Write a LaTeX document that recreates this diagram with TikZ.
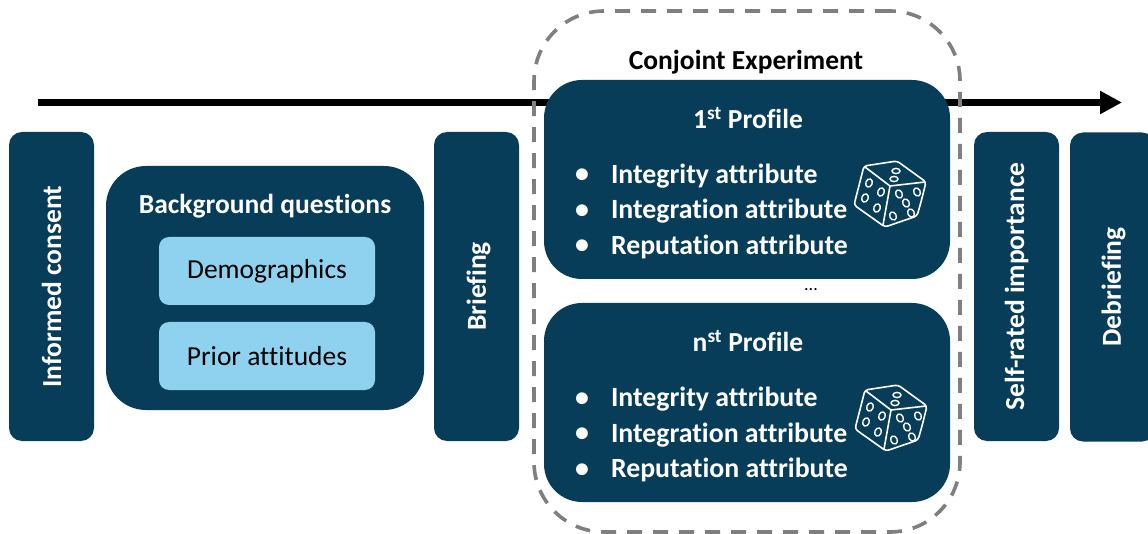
\documentclass[tikz,border=0pt]{standalone}
\usepackage{fontspec}
\setmainfont[Ligatures=NoCommon]{Carlito}
\usepackage{xcolor}
\usetikzlibrary{arrows.meta,positioning}
\definecolor{navy}{HTML}{083D5A}
\definecolor{sky}{HTML}{8FD2EF}
\definecolor{frame}{HTML}{7F7F7F}
\newcommand{\attr}[1]{\makebox[34pt][l]{\hspace{-2pt}\raisebox{0.5pt}{\textbullet}}#1}

\begin{document}
\begin{tikzpicture}[
  x=1pt,y=-1pt,
  font=\fontsize{27.5pt}{33pt}\selectfont\bfseries,
  outer sep=0pt,
  stage/.style={fill=navy,text=white,rounded corners=13pt,minimum width=85pt,minimum height=309pt},
  vtext/.style={text=white,rotate=90},
  group/.style={fill=navy,text=white,rounded corners=40pt,minimum width=318pt,minimum height=244pt},
  profile/.style={fill=navy,text=white,rounded corners=38pt,minimum width=406pt,minimum height=199pt},
  item/.style={fill=sky,text=black,rounded corners=10pt,minimum width=216pt,minimum height=68pt,font=\fontsize{27.5pt}{33pt}\selectfont},
  attrs/.style={text=white,align=left,inner sep=0pt,font=\fontsize{27.8pt}{35.5pt}\selectfont\bfseries},
  timeline/.style={line width=7pt,-{Triangle[length=22pt,width=22pt]}},
  zone/.style={draw=frame,line width=3.6pt,dash pattern=on 15pt off 11pt,rounded corners=70pt,minimum width=426pt,minimum height=521pt},
  dice/.pic={
    \draw[white,line width=1.6pt,line join=round,rounded corners=3pt]
      (-16,-48) -- (17,-53) -- (46,-32) -- (41,-12) -- (37,2) -- (5,13) -- (-26,-9) -- cycle;
    \draw[white,line width=1.6pt] (-15,-47) -- (10,-28) -- (45,-32) (10,-28) -- (3,11);
    \draw[white,line width=1.4pt,rotate around={-20:(-11,-31)}] (-11,-31) ellipse (3.2pt and 4.2pt);
    \draw[white,line width=1.4pt,rotate around={-20:(1,-22)}] (1,-22) ellipse (3.2pt and 4.2pt);
    \draw[white,line width=1.4pt,rotate around={-20:(-15,-16)}] (-15,-16) ellipse (3.2pt and 4.2pt);
    \draw[white,line width=1.4pt,rotate around={-20:(-3,-6)}] (-3,-6) ellipse (3.2pt and 4.2pt);
    \draw[white,line width=1.4pt] (16,-43) ellipse (4pt and 2.6pt);
    \draw[white,line width=1.4pt] (14,-35) ellipse (4pt and 2.6pt);
    \draw[white,line width=1.4pt,rotate around={25:(19,-20)}] (19,-20) ellipse (3.2pt and 4.2pt);
    \draw[white,line width=1.4pt,rotate around={25:(37,-22)}] (37,-22) ellipse (3.2pt and 4.2pt);
    \draw[white,line width=1.4pt,rotate around={25:(26,-11)}] (26,-11) ellipse (3.2pt and 4.2pt);
    \draw[white,line width=1.4pt,rotate around={25:(13,2)}] (13,2) ellipse (3.2pt and 4.2pt);
    \draw[white,line width=1.4pt,rotate around={25:(31,-1)}] (31,-1) ellipse (3.2pt and 4.2pt);
  }
]
\useasboundingbox (0,0) rectangle (1148,534);

% --- Timeline (runs behind the profiles) ---
\coordinate (start) at (38,102.5);
\coordinate (end)   at (1122,102.5);
\draw[timeline] (start) -- (end);

% --- Stages, left to right ---
\node[stage]                              (consent)    at (51.5,286.5) {};
\node[group, right=12pt of consent, yshift=-1.5pt] (background) {};
\node[stage, right=10pt of background, yshift=1.5pt] (briefing) {};
\node[vtext] at (consent)  {Informed consent};
\node[xshift=2pt, vtext] at (briefing) {Briefing};

\node[text=white] (bgtitle) at (265,206.5) {Background questions};
\node[item]  (demo)  at (267,271) {Demographics};
\node[item, below=17pt of demo] (prior) {Prior attitudes};

% --- Conjoint block ---
\node[profile] (first) at (747,179.5) {};
\node[profile, below=24pt of first] (last) {};
\node[zone] (conjoint) at (747,271.5) {};
\node[text=black] (ctitle) at (746,62.5) {Conjoint Experiment};

\node[text=white] (firsttitle) at (748,118) {1\textsuperscript{st} Profile};
\node[attrs, anchor=west] (firstattrs) at (577,211)
  {\attr{Integrity attribute}\\\attr{Integration attribute}\\\attr{Reputation attribute}};
\node[text=white] (lasttitle) at (748,341.5) {n\textsuperscript{st} Profile};
\node[attrs, anchor=west] (lastattrs) at (577,434.5)
  {\attr{Integrity attribute}\\\attr{Integration attribute}\\\attr{Reputation attribute}};
\node[font=\fontsize{18pt}{20pt}\selectfont] (dots) at (811,290) {...};

\pic at (880,214) {dice};
\pic at (881,438) {dice};

% --- Closing stages ---
\node[stage] (selfrated) at (1016.5,286.5) {};
\node[stage, right=11pt of selfrated, yshift=-0.5pt] (debriefing) {};
\node[vtext] at (selfrated)  {Self-rated importance};
\node[xshift=1pt, vtext] at (debriefing) {Debriefing};
\end{tikzpicture}
\end{document}
